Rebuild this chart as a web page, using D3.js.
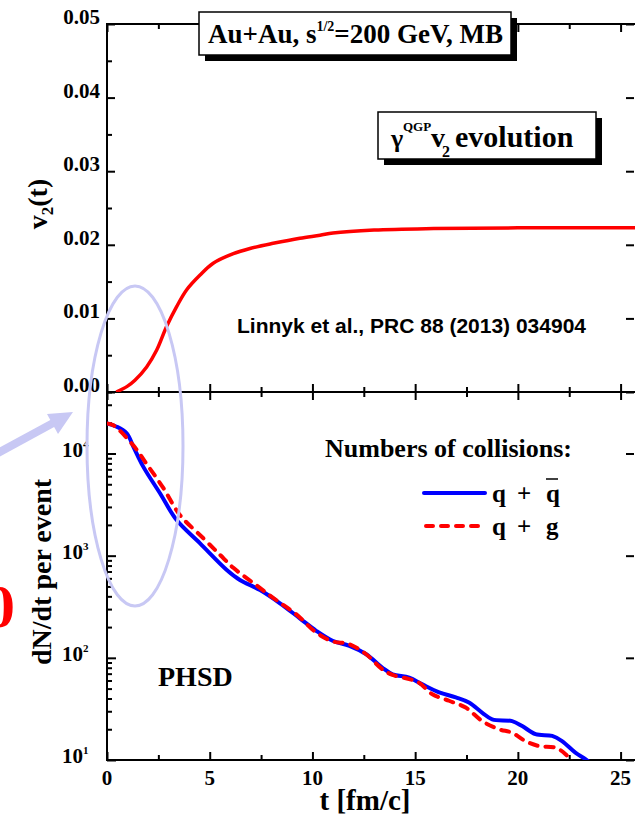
<!DOCTYPE html>
<html>
<head>
<meta charset="utf-8">
<script src="https://cdn.jsdelivr.net/npm/d3@7"></script>
<style>
  html, body { margin: 0; padding: 0; background: #fff; }
  svg { display: block; }
  text { font-family: "Liberation Serif", "Times New Roman", serif; font-weight: bold; fill: #000; }
</style>
</head>
<body>
<svg id="chart" width="635" height="816"></svg>
<script>
// ---- elliptic flow of QGP photons, v2(t)
const v2Time  = [0.45, 1.0, 1.36, 1.93, 2.42, 2.90, 3.39, 3.88, 4.53, 5.17, 6.15, 6.96, 8.09, 9.39, 10.37, 11.0, 13.0, 15.9, 20.0, 25.8];
const v2Value = [0.0, 0.0008, 0.0016, 0.0034, 0.0057, 0.0089, 0.0116, 0.0139, 0.0159, 0.0175, 0.0188, 0.0195, 0.0202, 0.0209, 0.0213, 0.0216, 0.0220, 0.0222, 0.0223, 0.0223];

// ---- collision rates dN/dt per event
const qqbarTime = [0, 0.47, 0.96, 1.28, 1.77, 2.58, 3.39, 4.53, 5.83, 6.47, 7.45, 8.42, 9.37, 10.18, 10.98, 11.8, 12.6, 13.41, 13.9, 14.71, 15.35, 16.17, 16.98, 17.62, 18.27, 18.75, 19.72, 20.21, 20.86, 21.67, 22.15, 22.8, 23.29, 23.8];
const qqbarRate = [19700, 18300, 15800, 11700, 7400, 4080, 2230, 1320, 725, 578, 461, 342, 245, 184, 147, 131, 109, 80, 69, 64, 55, 46, 41, 36.5, 29, 25, 24, 21.5, 17.9, 17.2, 15.3, 11.8, 10.2, 8.6];
const qgTime = [0, 0.31, 1.28, 1.93, 2.74, 3.55, 4.69, 5.5, 6.15, 7.29, 8.26, 9.23, 10.18, 10.98, 11.8, 12.6, 13.41, 13.9, 14.71, 15.19, 15.84, 16.65, 17.46, 18.27, 19.08, 19.72, 20.37, 21.02, 21.83, 22.32, 22.8];
const qgRate = [19700, 18900, 12000, 7900, 4600, 2500, 1480, 1020, 760, 510, 365, 265, 177, 145, 136, 109, 77, 68, 62, 57, 44, 38, 32.6, 24, 20, 18.5, 15.3, 13.7, 13.2, 11.4, 8.6];

// ---- ticks
const timeTicks = [0, 5, 10, 15, 20, 25];
const timeMinorTicks = [2.5, 7.5, 12.5, 17.5, 22.5];
const v2Ticks = [0, 0.01, 0.02, 0.03, 0.04, 0.05];
const v2TickLabels = ["0.00", "0.01", "0.02", "0.03", "0.04", "0.05"];
const v2MinorTicks = [0.005, 0.015, 0.025, 0.035, 0.045];
const rateDecades = [10, 100, 1000, 10000];
const rateExponents = ["1", "2", "3", "4"];

const svg = d3.select("#chart");

// panel geometry
const plotLeft = 107, plotRight = 636, plotTop = 24, plotMid = 392, plotBottom = 760;

const x = d3.scaleLinear().domain([0, 25.75]).range([plotLeft, plotRight]);
const yV2 = d3.scaleLinear().domain([0, 0.05]).range([plotMid, plotTop]);
const yRate = d3.scaleLog().domain([10, 40000]).range([plotBottom, plotMid]);

const rateMinor = [];
rateDecades.forEach(d => { for (let k = 2; k <= 9; k++) { if (d * k <= 40000) rateMinor.push(d * k); } });

const defs = svg.append("defs");
defs.append("clipPath").attr("id", "clipTop")
  .append("rect").attr("x", plotLeft).attr("y", plotTop).attr("width", plotRight - plotLeft).attr("height", plotMid - plotTop);
defs.append("clipPath").attr("id", "clipBot")
  .append("rect").attr("x", plotLeft).attr("y", plotMid).attr("width", plotRight - plotLeft).attr("height", plotBottom - plotMid);

// ---- axes (ticks point into each panel)
function styleAxis(g) {
  g.select(".domain").remove();
  g.selectAll(".tick line").attr("stroke", "#000").attr("stroke-width", 2);
  g.selectAll(".tick text").remove();
}
function tickAxis(axisFn, scale, values, size, tx, ty) {
  svg.append("g").attr("transform", `translate(${tx},${ty})`)
    .call(axisFn(scale).tickValues(values).tickSize(size).tickFormat(""))
    .call(styleAxis);
}
// time axes: top panel upper edge, shared middle edge, bottom edge
tickAxis(d3.axisTop, x, timeTicks, -8, 0, plotTop);
tickAxis(d3.axisTop, x, timeMinorTicks, -5, 0, plotTop);
tickAxis(d3.axisTop, x, timeTicks, 8, 0, plotMid);
tickAxis(d3.axisTop, x, timeMinorTicks, 5, 0, plotMid);
tickAxis(d3.axisBottom, x, timeTicks, 8, 0, plotMid);
tickAxis(d3.axisBottom, x, timeMinorTicks, 5, 0, plotMid);
tickAxis(d3.axisBottom, x, timeTicks, -8, 0, plotBottom);
tickAxis(d3.axisBottom, x, timeMinorTicks, -5, 0, plotBottom);
// v2 axes
tickAxis(d3.axisLeft, yV2, v2Ticks, -8, plotLeft, 0);
tickAxis(d3.axisLeft, yV2, v2MinorTicks, -5, plotLeft, 0);
tickAxis(d3.axisRight, yV2, v2Ticks, -8, 634, 0);
// rate axes
tickAxis(d3.axisLeft, yRate, rateDecades, -9, plotLeft, 0);
tickAxis(d3.axisLeft, yRate, rateMinor, -5, plotLeft, 0);
tickAxis(d3.axisRight, yRate, rateDecades, -8, 634, 0);

// ---- frame
svg.append("rect").attr("x", plotLeft).attr("y", plotTop).attr("width", plotRight - plotLeft).attr("height", plotBottom - plotTop)
  .attr("fill", "none").attr("stroke", "#000").attr("stroke-width", 2);
svg.append("line").attr("x1", plotLeft).attr("x2", plotRight).attr("y1", plotMid).attr("y2", plotMid)
  .attr("stroke", "#000").attr("stroke-width", 2);

// ---- tick labels
svg.append("g").selectAll("text").data(v2Ticks).join("text")
  .attr("x", 100).attr("y", d => yV2(d))
  .attr("text-anchor", "end").attr("font-size", 21)
  .text((d, i) => v2TickLabels[i]);

svg.append("g").selectAll("text").data(timeTicks).join("text")
  .attr("x", d => x(d)).attr("y", 785)
  .attr("text-anchor", "middle").attr("font-size", 21)
  .text(d => d);

const decadeLabels = svg.append("g").selectAll("text").data(rateDecades).join("text")
  .attr("x", 62).attr("y", d => yRate(d) + 3).attr("font-size", 21);
decadeLabels.append("tspan").text("10");
decadeLabels.append("tspan").attr("font-size", 11).attr("dy", -9).text((d, i) => rateExponents[i]);

// ---- axis titles
const v2Title = svg.append("text").attr("transform", "translate(47,204) rotate(-90)")
  .attr("text-anchor", "middle").attr("font-size", 28);
v2Title.append("tspan").text("v");
v2Title.append("tspan").attr("font-size", 17).attr("dy", 6).text("2");
v2Title.append("tspan").attr("dy", -6).text("(t)");

svg.append("text").attr("transform", "translate(51,572) rotate(-90)")
  .attr("text-anchor", "middle").attr("font-size", 28).text("dN/dt per event");

svg.append("text").attr("x", 365).attr("y", 810)
  .attr("text-anchor", "middle").attr("font-size", 29).text("t [fm/c]");

// ---- curves
const line = d3.line().curve(d3.curveCatmullRom.alpha(0.5));

svg.append("path")
  .attr("clip-path", "url(#clipTop)")
  .attr("d", line(v2Time.map((t, i) => [x(t), yV2(v2Value[i])])))
  .attr("fill", "none").attr("stroke", "#ff0000").attr("stroke-width", 3.5);

svg.append("path")
  .attr("clip-path", "url(#clipBot)")
  .attr("d", line(qqbarTime.map((t, i) => [x(t), yRate(qqbarRate[i])])))
  .attr("fill", "none").attr("stroke", "#0000ff").attr("stroke-width", 4);

svg.append("path")
  .attr("clip-path", "url(#clipBot)")
  .attr("d", line(qgTime.map((t, i) => [x(t), yRate(qgRate[i])])))
  .attr("fill", "none").attr("stroke", "#ff0000").attr("stroke-width", 4)
  .attr("stroke-dasharray", "8,8").attr("stroke-linecap", "round");

// ---- info boxes with drop shadow
function shadowBox(x0, y0, w, h) {
  svg.append("rect").attr("x", x0 + 6).attr("y", y0 + 6).attr("width", w).attr("height", h).attr("fill", "#000");
  svg.append("rect").attr("x", x0).attr("y", y0).attr("width", w).attr("height", h)
    .attr("fill", "#fff").attr("stroke", "#000").attr("stroke-width", 1.5);
}
shadowBox(199, 12, 312, 43);
const sysLabel = svg.append("text").attr("x", 208).attr("y", 43).attr("font-size", 27);
sysLabel.append("tspan").text("Au+Au, s");
sysLabel.append("tspan").attr("font-size", 14).attr("dy", -12).text("1/2");
sysLabel.append("tspan").attr("dy", 12).text("=200 GeV, MB");

shadowBox(378, 112, 218, 47);
svg.append("text").attr("x", 391).attr("y", 147).attr("font-size", 26).text("\u03b3");
svg.append("text").attr("x", 403).attr("y", 131).attr("font-size", 13).text("QGP");
const flowLabel = svg.append("text").attr("x", 431).attr("y", 147).attr("font-size", 28);
flowLabel.append("tspan").text("v");
flowLabel.append("tspan").attr("font-size", 16).attr("dx", -3).attr("dy", 10).text("2");
flowLabel.append("tspan").attr("font-size", 30).attr("x", 455).attr("dy", -10).text("evolution");

svg.append("text").attr("x", 237).attr("y", 333)
  .style("font-family", "'Liberation Sans', Arial, sans-serif").attr("font-size", 21)
  .text("Linnyk et al., PRC 88 (2013) 034904");

// ---- legend
svg.append("text").attr("x", 325).attr("y", 457).attr("font-size", 26).text("Numbers of collisions:");
svg.append("line").attr("x1", 424).attr("x2", 485).attr("y1", 493).attr("y2", 493)
  .attr("stroke", "#0000ff").attr("stroke-width", 4).attr("stroke-linecap", "round");
svg.append("line").attr("x1", 426).attr("x2", 485).attr("y1", 526).attr("y2", 526)
  .attr("stroke", "#ff0000").attr("stroke-width", 4).attr("stroke-dasharray", "7,8").attr("stroke-linecap", "round");
[["q", 492], ["+", 517], ["q", 546]].forEach(([s, px]) =>
  svg.append("text").attr("x", px).attr("y", 502).attr("font-size", 25).text(s));
svg.append("line").attr("x1", 546).attr("x2", 558).attr("y1", 479).attr("y2", 479)
  .attr("stroke", "#000").attr("stroke-width", 1.5);
[["q", 492], ["+", 517], ["g", 546]].forEach(([s, px]) =>
  svg.append("text").attr("x", px).attr("y", 535).attr("font-size", 25).text(s));

svg.append("text").attr("x", 158).attr("y", 686).attr("font-size", 28).text("PHSD");

// ---- annotation: highlighted early-time region with pointer
const accent = "#c8c8f4";
svg.append("ellipse").attr("cx", 135).attr("cy", 446).attr("rx", 48).attr("ry", 160)
  .attr("fill", "none").attr("stroke", accent).attr("stroke-width", 3);
svg.append("line").attr("x1", -4).attr("y1", 454).attr("x2", 55).attr("y2", 422)
  .attr("stroke", accent).attr("stroke-width", 8);
svg.append("path").attr("d", d3.line()([[73, 412], [47, 414], [58, 434]]) + "Z").attr("fill", accent);

svg.append("text").attr("x", 15).attr("y", 627).attr("text-anchor", "end")
  .attr("font-size", 62).style("fill", "#ff0000").text("0");
</script>
</body>
</html>
